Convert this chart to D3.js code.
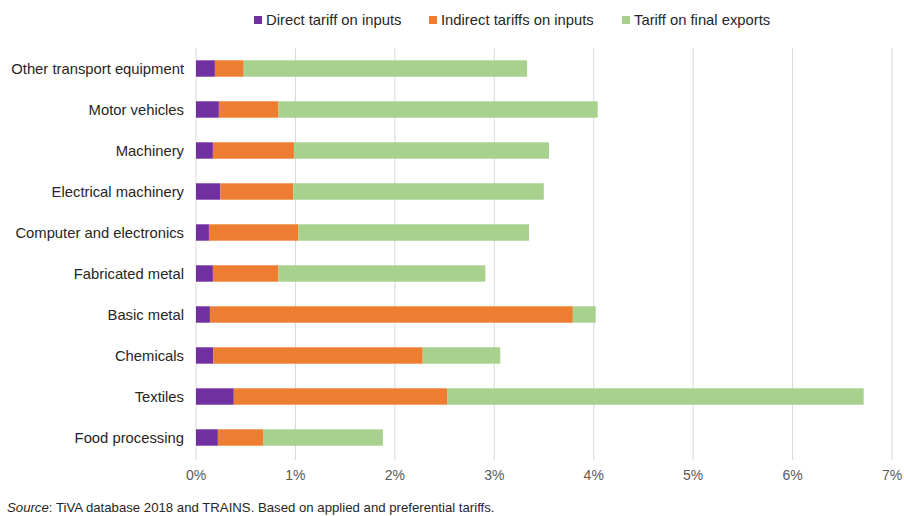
<!DOCTYPE html>
<html><head><meta charset="utf-8">
<script src="https://cdn.jsdelivr.net/npm/d3@7"></script>
<style>body{margin:0;background:#fff;font-family:"Liberation Sans",Arial,sans-serif;}</style>
</head><body><svg id="c" width="904" height="516"></svg>
<script>
const categories = ["Other transport equipment","Motor vehicles","Machinery","Electrical machinery","Computer and electronics","Fabricated metal","Basic metal","Chemicals","Textiles","Food processing"];
const seriesNames = ["Direct tariff on inputs","Indirect tariffs on inputs","Tariff on final exports"];
const directInputs   = [0.19, 0.23, 0.17, 0.245, 0.13, 0.17, 0.14, 0.175, 0.38, 0.22];
const indirectInputs = [0.29, 0.60, 0.815, 0.733, 0.90, 0.66, 3.65, 2.105, 2.145, 0.46];
const finalExports   = [2.85, 3.21, 2.565, 2.52, 2.32, 2.08, 0.23, 0.78, 4.19, 1.20];
const tickValues = [0,1,2,3,4,5,6,7];
const colors = ["#7030a0","#ed7d31","#a9d18e"];

const svg = d3.select("#c");
const m = {left:196, right:892, top:48, bottom:458};
const x = d3.scaleLinear().domain([0,7]).range([m.left, m.right]);
const y = d3.scaleBand().domain(categories).range([m.top, m.bottom]).paddingInner(0.6).paddingOuter(0.3);

// gridlines
svg.append("g").selectAll("line").data(tickValues).join("line")
  .attr("x1", d=>x(d)).attr("x2", d=>x(d)).attr("y1", m.top).attr("y2", m.bottom+2)
  .attr("stroke", "#d9d9d9").attr("stroke-width", 1);

// axis labels
svg.append("g").selectAll("text").data(tickValues).join("text")
  .attr("x", d=>x(d)).attr("y", 480).attr("text-anchor","middle")
  .attr("font-size", 14).attr("fill","#595959").text(d=>d+"%");

const rows = categories.map((c,i)=>({c, vals:[directInputs[i], indirectInputs[i], finalExports[i]]}));
const seg = [];
rows.forEach(r=>{ let acc=0; r.vals.forEach((v,k)=>{ seg.push({c:r.c,k,x0:acc,x1:acc+v}); acc+=v; }); });
svg.append("g").selectAll("rect").data(seg).join("rect")
  .attr("x", d=>x(d.x0)).attr("width", d=>x(d.x1)-x(d.x0))
  .attr("y", d=>y(d.c)).attr("height", y.bandwidth())
  .attr("fill", d=>colors[d.k]);

// category labels
svg.append("g").selectAll("text").data(categories).join("text")
  .attr("x", 184).attr("y", d=>y(d)+y.bandwidth()/2).attr("dy","0.35em")
  .attr("text-anchor","end").attr("font-size", 14.8).attr("fill","#262626").text(d=>d);

// legend
const legX = [254, 429, 622];
const lg = svg.append("g").selectAll("g").data(seriesNames).join("g")
  .attr("transform",(d,i)=>`translate(${legX[i]},20)`);
lg.append("rect").attr("x",0).attr("y",-4).attr("width",8).attr("height",8).attr("fill",(d,i)=>colors[i]);
lg.append("text").attr("x",12).attr("dy","0.35em").attr("font-size",14.8).attr("fill","#262626").text(d=>d);

// source
const s = svg.append("text").attr("x",7).attr("y",512).attr("font-size",13.2).attr("fill","#262626");
s.append("tspan").attr("font-style","italic").text("Source");
s.append("tspan").text(": TiVA database 2018 and TRAINS. Based on applied and preferential tariffs.");
</script></body></html>
